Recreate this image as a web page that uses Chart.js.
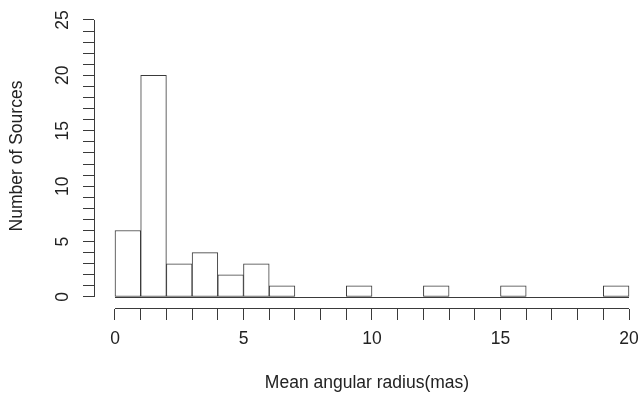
<!DOCTYPE html>
<html>
<head>
<meta charset="utf-8">
<script src="https://cdn.jsdelivr.net/npm/chart.js@4.4.1/dist/chart.umd.min.js"></script>
<style>
  html, body { margin: 0; padding: 0; background: #fff; }
  #wrap { width: 640px; height: 396px; }
</style>
</head>
<body>
<div id="wrap"><canvas id="chart" width="640" height="396"></canvas></div>
<script>
// histogram bins (width 1) and counts
const binEdges = [0, 1, 2, 3, 4, 5, 6, 7, 8, 9, 10, 11, 12, 13, 14, 15, 16, 17, 18, 19, 20];
const counts = [6, 20, 3, 4, 2, 3, 1, 0, 0, 1, 0, 0, 1, 0, 0, 1, 0, 0, 0, 1];

// axis ticks: a mark at every integer, a label every 5
const xTickValues = [0, 1, 2, 3, 4, 5, 6, 7, 8, 9, 10, 11, 12, 13, 14, 15, 16, 17, 18, 19, 20];
const xTickLabels = [0, 5, 10, 15, 20];
const yTickValues = [0, 1, 2, 3, 4, 5, 6, 7, 8, 9, 10, 11, 12, 13, 14, 15, 16, 17, 18, 19, 20, 21, 22, 23, 24, 25];
const yTickLabels = [0, 5, 10, 15, 20, 25];

const xTitle = "Mean angular radius(mas)";
const yTitle = "Number of Sources";

const ink = "#222";
const lineColor = "#3a3a3a";
const fontSize = 17.5;

Chart.defaults.font.family = "'Liberation Sans', Arial, sans-serif";
Chart.defaults.font.size = fontSize;
Chart.defaults.color = ink;

const bars = counts.map((c, i) => ({ x: (binEdges[i] + binEdges[i + 1]) / 2, y: c }));

// R style axes sit apart from the bars, so the lines are drawn here from the scales
const axisLines = {
  id: "axisLines",
  afterDatasetsDraw(chart) {
    const { ctx, chartArea, scales: { x, y } } = chart;
    const x0 = x.getPixelForValue(xTickValues[0]);
    const x1 = x.getPixelForValue(xTickValues[xTickValues.length - 1]);
    const y0 = y.getPixelForValue(yTickValues[0]);
    const y1 = y.getPixelForValue(yTickValues[yTickValues.length - 1]);
    const ax = Math.round(chartArea.left) + 0.5;
    const ay = Math.round(chartArea.bottom) - 0.5;
    const by = Math.round(y0) + 0.5;
    ctx.save();
    ctx.strokeStyle = lineColor;
    ctx.lineWidth = 1;
    ctx.beginPath();
    ctx.moveTo(ax, y0); ctx.lineTo(ax, y1);
    ctx.moveTo(x0, ay); ctx.lineTo(x1, ay);
    // zero-height bins still leave their base line
    ctx.moveTo(x.getPixelForValue(binEdges[0]), by);
    ctx.lineTo(x.getPixelForValue(binEdges[binEdges.length - 1]), by);
    ctx.stroke();
    ctx.restore();
  }
};

new Chart(document.getElementById("chart"), {
  type: "bar",
  data: {
    datasets: [{
      data: bars,
      backgroundColor: "#fff",
      borderColor: lineColor,
      borderWidth: 1,
      borderSkipped: false,
      barPercentage: 1,
      categoryPercentage: 1
    }]
  },
  options: {
    responsive: false,
    animation: false,
    devicePixelRatio: 1,
    layout: { padding: { left: 0, right: 0, top: 3, bottom: 0 } },
    plugins: { legend: { display: false }, tooltip: { enabled: false } },
    scales: {
      x: {
        type: "linear",
        offset: false,
        min: -0.817,
        max: 20.428,
        afterBuildTicks: s => { s.ticks = xTickValues.map(v => ({ value: v })); },
        afterFit: s => { s.height = 87; s.paddingLeft = 0; s.paddingRight = 0; },
        ticks: {
          autoSkip: false,
          maxRotation: 0,
          minRotation: 0,
          padding: 9,
          callback: v => (xTickLabels.includes(v) ? String(v) : "")
        },
        grid: { offset: false, drawOnChartArea: false, drawTicks: true, tickLength: 11, color: lineColor, lineWidth: 1 },
        border: { display: false },
        title: { display: true, text: xTitle, color: ink, padding: { top: 0, bottom: 2 } }
      },
      y: {
        type: "linear",
        min: -1.083,
        max: 26.53,
        afterBuildTicks: s => { s.ticks = yTickValues.map(v => ({ value: v })); },
        afterFit: s => { s.width = 94; s.paddingTop = 0; s.paddingBottom = 0; },
        ticks: {
          autoSkip: false,
          minRotation: 90,
          maxRotation: 90,
          crossAlign: "center",
          padding: 10,
          callback: v => (yTickLabels.includes(v) ? String(v) : "")
        },
        grid: { offset: false, drawOnChartArea: false, drawTicks: true, tickLength: 11, color: lineColor, lineWidth: 1 },
        border: { display: false },
        title: { display: true, text: yTitle, color: ink, padding: { top: 7, bottom: 0 } }
      }
    }
  },
  plugins: [axisLines]
});
</script>
</body>
</html>
